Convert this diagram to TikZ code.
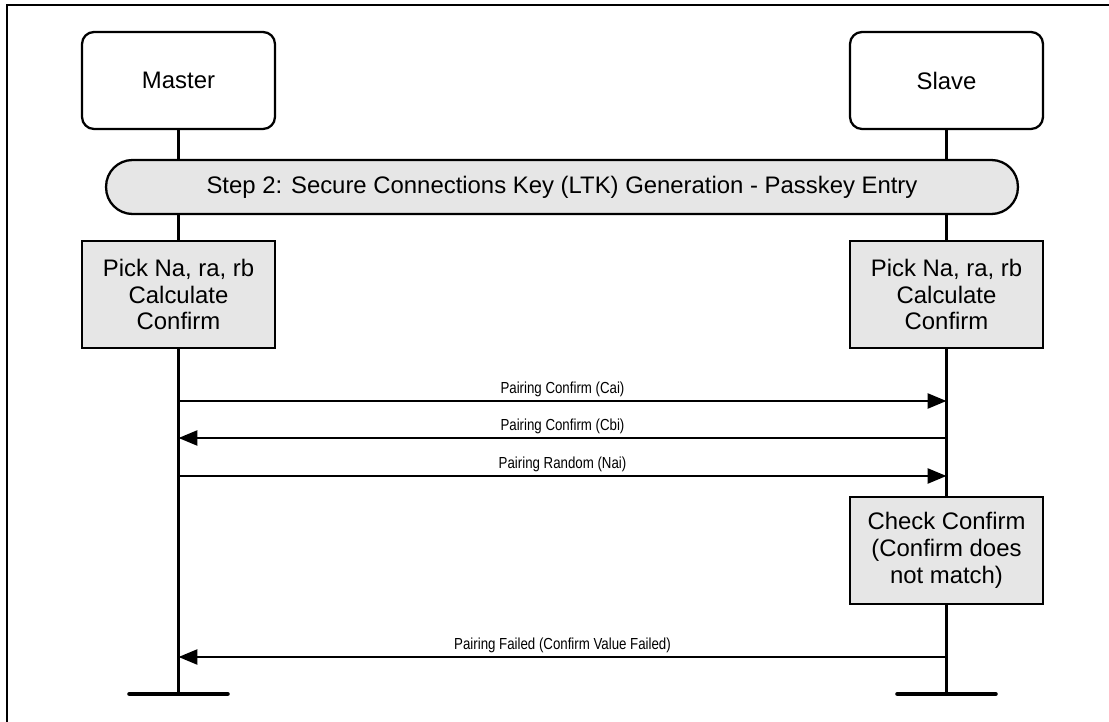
\documentclass[tikz,border=0pt]{standalone}
\usepackage{fontspec}
\setmainfont{Liberation Sans}
\usepackage{xcolor}
\usepackage{graphicx}
\usepackage{tikz}
\usetikzlibrary{arrows.meta,positioning,backgrounds,calc}
\definecolor{boxgray}{RGB}{230,230,230}
\definecolor{linegray}{RGB}{0,0,0}
\newcommand{\msgtext}[1]{\scalebox{0.83}[1]{\fontsize{9.1pt}{10pt}\selectfont #1}}

\begin{document}
\begin{tikzpicture}[x=0.02cm, y=-0.02cm,
  font=\fontsize{13.6pt}{15.2pt}\selectfont,
  every node/.style={line width=1.3pt, draw=linegray},
  lifebox/.style={fill=white, rounded corners=0.24cm, minimum width=3.86cm, minimum height=1.94cm},
  stepband/.style={fill=boxgray, rounded corners=0.53cm, minimum width=18.24cm, minimum height=1.08cm},
  actbox/.style={fill=boxgray, align=center, minimum width=3.86cm, minimum height=2.14cm, inner sep=2pt},
  lifeline/.style={line width=1.3pt},
  endbar/.style={line width=2.6pt, line cap=round},
  msg/.style={line width=1.5pt, -{Triangle[length=0.38cm, width=0.3cm]}},
  lbl/.style={draw=none, anchor=base, yshift=0.15cm, inner sep=0pt}]
  \useasboundingbox (0,0) rectangle (1109,722);
  \draw[line width=1.6pt] (7,722) -- (7,5) -- (1109,5);

  \node[lifebox] (master) at (178.5,80.5) {Master};
  \node[lifebox] (slave) at (946.5,80.5) {Slave};
  \node[stepband] (step) at (562,187) {Step 2: Secure Connections Key (LTK) Generation - Passkey Entry};
  \node[actbox] (pickm) at (178.5,294.5) {Pick Na, ra, rb\\Calculate\\Confirm};
  \node[actbox] (picks) at (946.5,294.5) {Pick Na, ra, rb\\Calculate\\Confirm};
  \node[actbox] (check) at (946.5,550.5) {Check Confirm\\(Confirm does\\not match)};

  \coordinate (mend) at (178.5,694);
  \coordinate (send) at (946.5,694);
  \foreach \n/\y in {1/401, 2/438, 3/476, 4/657} {
    \coordinate (m\n) at (178.5,\y);
    \coordinate (s\n) at (946.5,\y);
  }

  \begin{scope}[on background layer]
    \draw[lifeline] (master.south) -- (mend);
    \draw[lifeline] (slave.south) -- (send);
  \end{scope}
  \draw[endbar] ($(mend)+(-49,0)$) -- ($(mend)+(49,0)$);
  \draw[endbar] ($(send)+(-49,0)$) -- ($(send)+(49,0)$);

  \draw[msg] (m1) -- node[lbl] {\msgtext{Pairing Confirm (Cai)}} (s1);
  \draw[msg] (s2) -- node[lbl] {\msgtext{Pairing Confirm (Cbi)}} (m2);
  \draw[msg] (m3) -- node[lbl] {\msgtext{Pairing Random (Nai)}} (s3);
  \draw[msg] (s4) -- node[lbl] {\msgtext{Pairing Failed (Confirm Value Failed)}} (m4);
\end{tikzpicture}
\end{document}
